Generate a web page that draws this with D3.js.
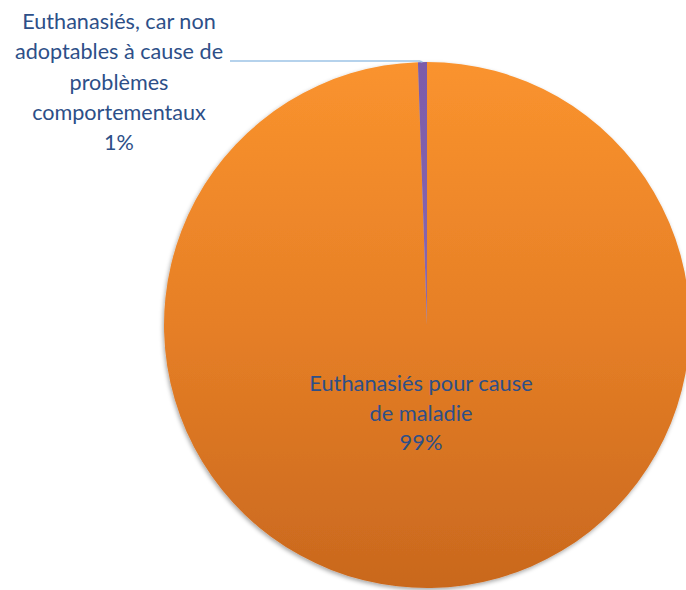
<!DOCTYPE html>
<html><head><meta charset="utf-8">
<script src="https://cdn.jsdelivr.net/npm/d3@7"></script>
<style>html,body{margin:0;padding:0;background:#fff;}svg{display:block;}</style>
</head><body>
<script>
const categories = ["Euthanasiés pour cause de maladie", "Euthanasiés, car non adoptables à cause de problèmes comportementaux"];
const values = [99.45, 0.55];
const pctLabels = ["99%", "1%"];
const labelLines = [
  ["Euthanasiés pour cause", "de maladie", "99%"],
  ["Euthanasiés, car non", "adoptables à cause de", "problèmes", "comportementaux", "1%"]
];

const W = 686, H = 590;
const cx = 427, cy = 325, R = 263;
const svg = d3.select("body").append("svg").attr("width", W).attr("height", H);
const defs = svg.append("defs");
const g1 = defs.append("linearGradient").attr("id","gOr").attr("gradientUnits","userSpaceOnUse")
  .attr("x1",0).attr("y1",-R).attr("x2",0).attr("y2",R);
g1.append("stop").attr("offset","0%").attr("stop-color","#FA932E");
g1.append("stop").attr("offset","50%").attr("stop-color","#E67F26");
g1.append("stop").attr("offset","100%").attr("stop-color","#C9681E");
const g2 = defs.append("linearGradient").attr("id","gPu").attr("gradientUnits","userSpaceOnUse")
  .attr("x1",0).attr("y1",-R).attr("x2",0).attr("y2",0);
g2.append("stop").attr("offset","0%").attr("stop-color","#7C5BAA");
g2.append("stop").attr("offset","100%").attr("stop-color","#8A68B0");
const f = defs.append("filter").attr("id","sh").attr("x","-10%").attr("y","-10%").attr("width","120%").attr("height","120%");
f.append("feDropShadow").attr("dx",-1).attr("dy",2).attr("stdDeviation",2).attr("flood-color","#000").attr("flood-opacity",0.35);

const pie = d3.pie().sort(null).value(d => d)(values);
const arc = d3.arc().innerRadius(0).outerRadius(R);
const fills = ["url(#gOr)", "url(#gPu)"];
const gp = svg.append("g").attr("transform", `translate(${cx},${cy})`).attr("filter","url(#sh)");
gp.selectAll("path").data(pie).join("path").attr("d", arc).attr("fill", (d,i) => fills[i]);

const textColor = "#2D4F88";
const font = "Lato, 'Open Sans', sans-serif";
function drawLabel(lines, x, yFirst, spacing, size) {
  const t = svg.append("text").attr("text-anchor","middle").attr("fill",textColor)
    .attr("font-family",font).attr("font-size",size);
  lines.forEach((l,i) => t.append("tspan").attr("x",x).attr("y",yFirst + i*spacing).text(l));
}
// inner label
drawLabel(labelLines[0], 421, 391, 29.5, 21.8);
// outer label
drawLabel(labelLines[1], 119, 29, 30.3, 21.6);

// leader line
const a1 = pie[1];
const mid = (a1.startAngle + a1.endAngle)/2;
const px = cx + R*Math.sin(mid), py = cy - R*Math.cos(mid);
svg.append("polyline").attr("points", `230,61 ${px-3},${py-1} ${px},${py}`)
  .attr("fill","none").attr("stroke","#9DC3E6").attr("stroke-width",1.6);
</script>
</body></html>
